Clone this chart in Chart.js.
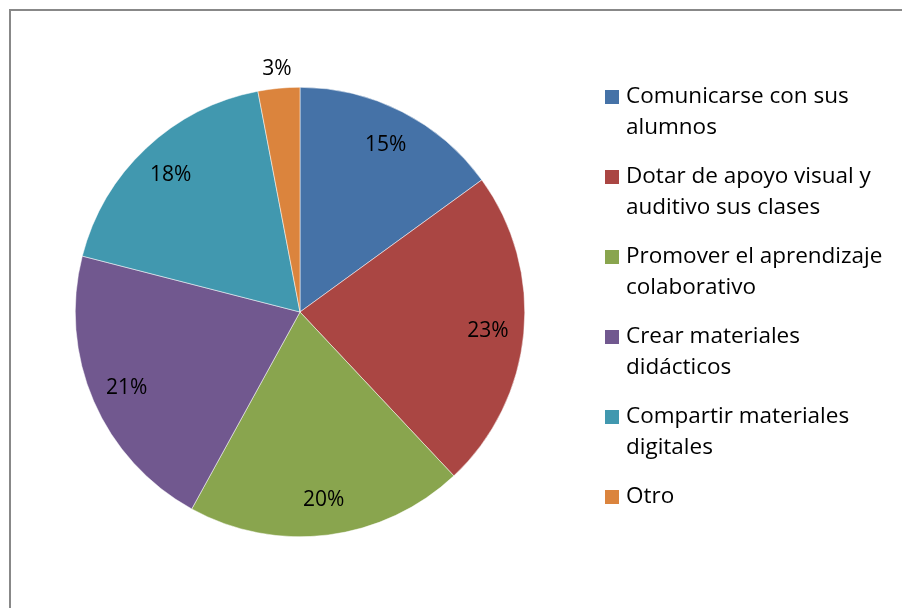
<!DOCTYPE html>
<html lang="es">
<head>
    <meta charset="UTF-8">
    <title>Usos de la tecnología</title>
    <script src="https://cdn.jsdelivr.net/npm/chart.js@4"></script>
    <style>
        body {
            margin: 0;
            background: #ffffff;
        }
        .wrap {
            position: relative;
            width: 902px;
            height: 608px;
        }
    </style>
</head>
<body>
    <div class="wrap">
        <canvas id="usosChart" width="902" height="608"></canvas>
    </div>

    <script>
        const categorias = [
            ["Comunicarse con sus", "alumnos"],
            ["Dotar de apoyo visual y", "auditivo sus clases"],
            ["Promover el aprendizaje", "colaborativo"],
            ["Crear materiales", "didácticos"],
            ["Compartir materiales", "digitales"],
            ["Otro"]
        ];
        const porcentajes = [15, 23, 20, 21, 18, 3];
        const colores = ["#4572A7", "#AA4643", "#89A54E", "#71588F", "#4198AF", "#DB843D"];

        const FONT = "'Open Sans', Lato, sans-serif";

        // marco gris del área del gráfico
        const marco = {
            id: "marco",
            beforeDraw(chart) {
                const ctx = chart.ctx;
                ctx.save();
                ctx.strokeStyle = "#888888";
                ctx.lineWidth = 2;
                ctx.strokeRect(10, 10, 1000, 700);
                ctx.restore();
            }
        };

        // porcentajes sobre cada sector
        const etiquetas = {
            id: "etiquetas",
            afterDatasetsDraw(chart) {
                const ctx = chart.ctx;
                const arcs = chart.getDatasetMeta(0).data;
                ctx.save();
                ctx.font = "21px " + FONT;
                ctx.fillStyle = "#000000";
                ctx.textAlign = "center";
                ctx.textBaseline = "middle";
                arcs.forEach((arc, i) => {
                    const p = arc.getProps(["x", "y", "startAngle", "endAngle", "outerRadius"], true);
                    const mid = (p.startAngle + p.endAngle) / 2;
                    const d = porcentajes[i] < 5 ? p.outerRadius + 20 : p.outerRadius * 0.84;
                    ctx.fillText(porcentajes[i] + "%", p.x + Math.cos(mid) * d, p.y + Math.sin(mid) * d + 1);
                });
                ctx.restore();
            }
        };

        // leyenda con texto en dos líneas
        const leyenda = {
            id: "leyenda",
            afterDraw(chart) {
                const ctx = chart.ctx;
                ctx.save();
                ctx.font = "22.5px " + FONT;
                ctx.textBaseline = "middle";
                categorias.forEach((lineas, i) => {
                    const y = 97 + i * 80;
                    ctx.fillStyle = colores[i];
                    ctx.fillRect(605, y - 7, 14, 14);
                    ctx.fillStyle = "#000000";
                    lineas.forEach((t, j) => ctx.fillText(t, 626, y + j * 31));
                });
                ctx.restore();
            }
        };

        new Chart(document.getElementById("usosChart"), {
            type: "pie",
            data: {
                labels: categorias.map(c => c.join(" ")),
                datasets: [{
                    data: porcentajes,
                    backgroundColor: colores,
                    borderColor: "#ffffff",
                    borderWidth: 0.5
                }]
            },
            options: {
                responsive: false,
                animation: false,
                layout: { padding: { top: 87, bottom: 71, left: 75, right: 377 } },
                plugins: {
                    legend: { display: false },
                    tooltip: { enabled: false }
                }
            },
            plugins: [marco, etiquetas, leyenda]
        });
    </script>
</body>
</html>
